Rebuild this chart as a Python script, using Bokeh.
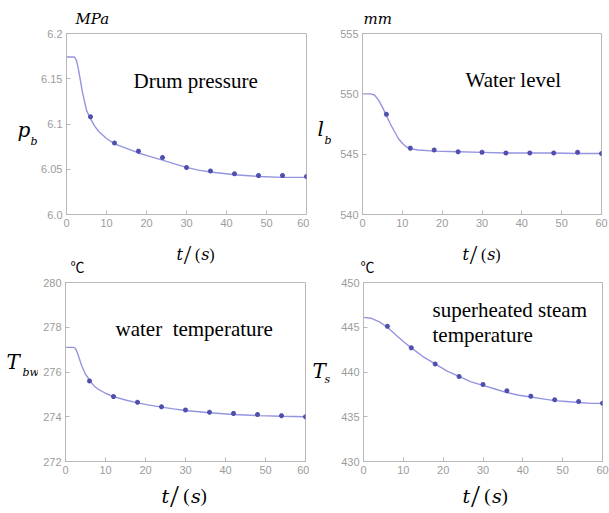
from bokeh.plotting import figure
from bokeh.models import Label, FixedTicker, Range1d
from bokeh.layouts import column, row
from bokeh.embed import file_html
from bokeh.resources import INLINE

# ---------------- data ----------------
t_ticks = [0, 10, 20, 30, 40, 50, 60]
t_mark = [6, 12, 18, 24, 30, 36, 42, 48, 54, 60]

# Drum pressure (MPa)
p_ticks = [6.0, 6.05, 6.1, 6.15, 6.2]
p_tick_labels = ["6.0", "6.05", "6.1", "6.15", "6.2"]
p_t = [0, 1, 2, 2.5, 3, 4, 5, 6, 7, 8, 10, 12, 15, 18, 21, 24, 27, 30, 33, 36, 42, 48, 54, 60]
p_val = [6.174, 6.174, 6.174, 6.170, 6.160, 6.135, 6.115, 6.106, 6.098, 6.092, 6.084, 6.078,
         6.073, 6.068, 6.064, 6.060, 6.056, 6.052, 6.049, 6.047, 6.044, 6.042, 6.041, 6.041]
p_mark = [6.108, 6.079, 6.070, 6.063, 6.052, 6.048, 6.045, 6.043, 6.043, 6.042]

# Water level (mm)
l_ticks = [540, 545, 550, 555]
l_tick_labels = ["540", "545", "550", "555"]
l_t = [0, 1, 2, 3, 4, 5, 6, 7, 8, 9, 10, 11, 12, 14, 18, 24, 30, 36, 42, 48, 54, 60]
l_val = [550, 550, 550, 549.9, 549.5, 548.9, 548.2, 547.5, 546.9, 546.3, 545.9, 545.6,
         545.45, 545.35, 545.25, 545.2, 545.15, 545.1, 545.1, 545.1, 545.05, 545.05]
l_mark = [548.3, 545.5, 545.35, 545.2, 545.15, 545.1, 545.1, 545.1, 545.15, 545.05]

# Water temperature (C)
w_ticks = [272, 274, 276, 278, 280]
w_tick_labels = ["272", "274", "276", "278", "280"]
w_t = [0, 1, 2, 2.5, 3, 4, 5, 6, 7, 8, 10, 12, 15, 18, 21, 24, 27, 30, 36, 42, 48, 54, 60]
w_val = [277.1, 277.1, 277.1, 277.05, 276.85, 276.3, 275.9, 275.65, 275.4, 275.25, 275.05,
         274.9, 274.75, 274.62, 274.52, 274.43, 274.35, 274.28, 274.18, 274.1, 274.05, 274.02, 274.0]
w_mark = [275.6, 274.9, 274.65, 274.45, 274.3, 274.2, 274.15, 274.1, 274.05, 274.0]

# Superheated steam temperature (C)
s_ticks = [430, 435, 440, 445, 450]
s_tick_labels = ["430", "435", "440", "445", "450"]
s_t = [0, 2, 4, 6, 8, 10, 12, 15, 18, 21, 24, 27, 30, 33, 36, 39, 42, 45, 48, 51, 54, 57, 60]
s_val = [446.1, 446.0, 445.6, 445.0, 444.2, 443.4, 442.7, 441.7, 440.9, 440.1, 439.5, 438.9,
         438.5, 438.1, 437.7, 437.4, 437.2, 437.0, 436.8, 436.7, 436.6, 436.5, 436.5]
s_mark = [445.1, 442.7, 440.9, 439.5, 438.6, 437.9, 437.3, 436.9, 436.7, 436.5]

# ---------------- styling ----------------
AX = "#b8b8b8"
TICKLBL = "#9c9c9c"
LINE = "#9494e0"
MARK = "#4f4fae"
SERIF = "Liberation Serif"
SERIF_IT = "DejaVu Serif"
CJK = "Noto Sans CJK SC"


def make_fig(width, height, bl, br, bt, bb, yr, yticks, ylabels, xs, ys, xm, ym):
    p = figure(width=width, height=height, x_range=Range1d(0, 60), y_range=Range1d(*yr),
               output_backend="svg", toolbar_location=None,
               min_border_left=bl, min_border_right=br, min_border_top=bt, min_border_bottom=bb)
    p.xgrid.visible = False
    p.ygrid.visible = False
    p.outline_line_color = AX
    p.xaxis.ticker = FixedTicker(ticks=t_ticks)
    p.yaxis.ticker = FixedTicker(ticks=yticks)
    p.yaxis.major_label_overrides = {t: l for t, l in zip(yticks, ylabels)}
    for ax in [p.xaxis[0], p.yaxis[0]]:
        ax.axis_line_color = AX
        ax.major_tick_line_color = AX
        ax.major_tick_in = 4
        ax.major_tick_out = 0
        ax.minor_tick_line_color = None
        ax.major_label_text_color = TICKLBL
        ax.major_label_text_font = "Liberation Sans"
        ax.major_label_text_font_size = "11px"
        ax.major_label_standoff = 4
    p.line(xs, ys, line_color=LINE, line_width=1.4)
    p.scatter(xm, ym, marker="asterisk", size=5, line_color=MARK, line_width=1.5)
    return p


def text_fig(width, height):
    # a figure whose frame is the whole canvas, used only to carry texts
    f = figure(width=width, height=height, x_range=Range1d(0, width), y_range=Range1d(height, 0),
               output_backend="svg", toolbar_location=None, x_axis_type=None, y_axis_type=None,
               min_border_left=0, min_border_right=0, min_border_top=0, min_border_bottom=0)
    f.xgrid.visible = False
    f.ygrid.visible = False
    f.outline_line_color = None
    return f


def txt(p, org, px, py, text, size, italic=False, align="left", font=None):
    # px, py: page pixels; org: page origin of the figure that carries the text
    if font is None:
        font = SERIF_IT if italic else SERIF
    p.add_layout(Label(x=px - org[0], y=py - org[1], x_units="canvas", y_units="canvas",
                       text=text, text_font=font, text_font_size=f"{size}px",
                       text_font_style="italic" if italic else "normal",
                       text_align=align, text_baseline="middle", text_color="black"))


def t_over_s(p, org, x, y, size, slash):
    txt(p, org, x, y, "t", size, italic=True)
    txt(p, org, x + 0.45 * size, y, "/", slash)
    txt(p, org, x + 1.15 * size, y, "(", size)
    txt(p, org, x + 1.55 * size, y, "s", size, italic=True)
    txt(p, org, x + 2.05 * size, y, ")", size)


# ---------------- figures ----------------
# page origins
OTS = (0, 0)        # top text strip 609x27
OY1, O1 = (0, 27), (38, 27)
OY2, O2 = (309, 27), (332, 27)
OMS = (0, 235)      # middle text strip 609x41
OY3, O3 = (0, 276), (38, 276)
OY4, O4 = (309, 276), (338, 276)
OBS = (0, 478)      # bottom text strip 609x35

ts = text_fig(609, 27)
y1 = text_fig(38, 208)
y2 = text_fig(23, 208)
ms = text_fig(609, 41)
y3 = text_fig(38, 202)
y4 = text_fig(29, 202)
bs = text_fig(609, 35)

p1 = make_fig(271, 208, 28, 3, 6, 21, (6.0, 6.2), p_ticks, p_tick_labels, p_t, p_val, t_mark, p_mark)
p2 = make_fig(277, 208, 30, 8, 6, 21, (540, 555), l_ticks, l_tick_labels, l_t, l_val, t_mark, l_mark)
p3 = make_fig(271, 202, 27, 4, 6, 17, (272, 280), w_ticks, w_tick_labels, w_t, w_val, t_mark, w_mark)
p4 = make_fig(271, 202, 25, 7, 6, 17, (430, 450), s_ticks, s_tick_labels, s_t, s_val, t_mark, s_mark)

# units above the top panels
txt(ts, OTS, 75, 18, "MPa", 15, italic=True)
txt(ts, OTS, 363, 18, "mm", 15, italic=True)

# y labels
txt(y1, OY1, 17, 129, "p", 20, italic=True)
txt(y1, OY1, 30, 141, "b", 11, italic=True)
txt(y2, OY2, 317, 128, "l", 20, italic=True)
txt(y2, OY2, 324, 140, "b", 11, italic=True)
txt(y3, OY3, 6, 361, "T", 20, italic=True)
txt(y3, OY3, 22, 372, "bw", 11, italic=True)
txt(y4, OY4, 312, 370, "T", 20, italic=True)
txt(y4, OY4, 324, 379, "s", 11, italic=True)

# texts inside the panels
txt(p1, O1, 133, 80, "Drum pressure", 21)
txt(p2, O2, 465, 79, "Water level", 21)
txt(p3, O3, 115, 328, "water\u00a0 temperature", 21)
txt(p4, O4, 432, 309, "superheated steam", 21)
txt(p4, O4, 432, 334, "temperature", 21)

# x labels and units of the bottom panels
t_over_s(ms, OMS, 176, 254, 16, 27)
t_over_s(ms, OMS, 462, 254, 16, 27)
txt(ms, OMS, 70, 265, "℃", 14, font=CJK)
txt(ms, OMS, 360, 265, "℃", 14, font=CJK)
t_over_s(bs, OBS, 161, 495, 19, 32)
t_over_s(bs, OBS, 462, 495, 19, 32)

layout = column(
    ts,
    row(y1, p1, y2, p2),
    ms,
    row(y3, p3, y4, p4),
    bs,
)

open("out.html", "w").write(file_html(layout, INLINE))
